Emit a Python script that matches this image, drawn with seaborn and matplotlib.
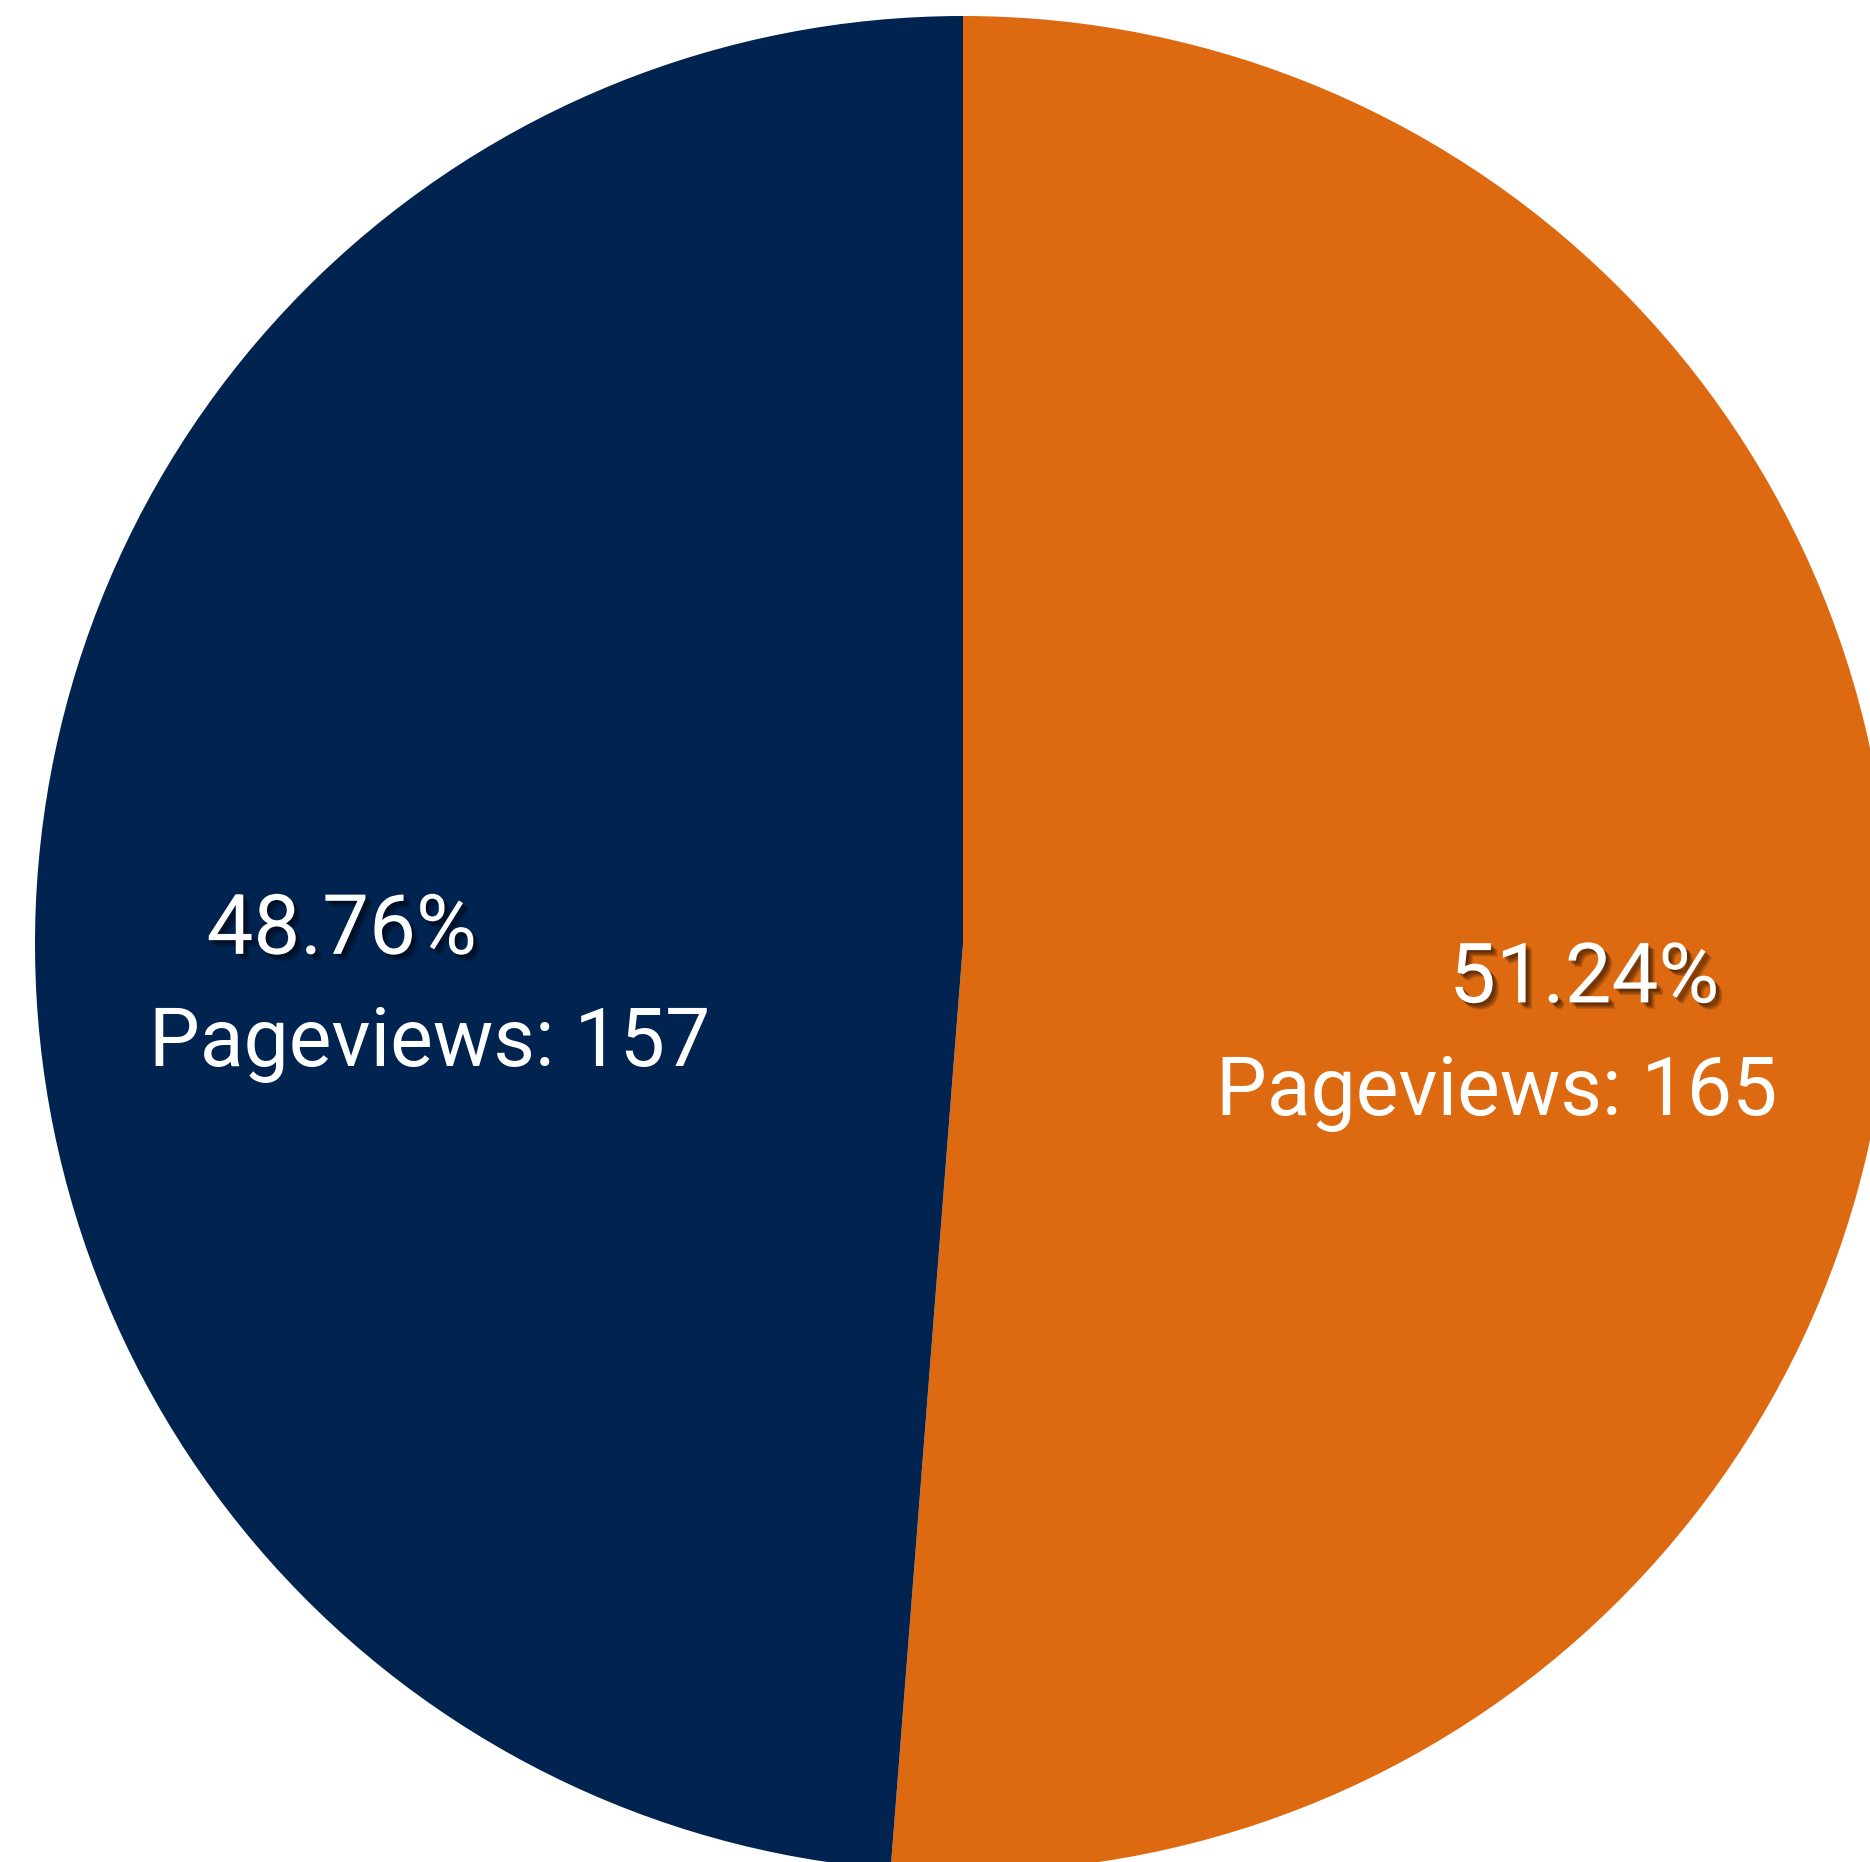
import numpy as np
import matplotlib
matplotlib.use("Agg")
import matplotlib.pyplot as plt
import matplotlib.patheffects as pe
import seaborn as sns

# data
categories = ["A", "B"]
pageviews = [165, 157]
colors = ["#DD6A10", "#012350"]

sns.set_theme(style="white")
plt.rcParams["font.family"] = ["Roboto", "DejaVu Sans"]

fig = plt.figure(figsize=(18.70, 18.62), dpi=100)
# pie centre at (963, 944) px, radius ~928 px
W, H = 1870, 1862
cx, cy, r = 963, 944, 928
ax = fig.add_axes([(cx - r) / W, (H - cy - r) / H, 2 * r / W, 2 * r / H])

wedges, texts, autotexts = ax.pie(
    pageviews,
    colors=colors,
    startangle=90,
    counterclock=False,
    autopct="%.2f%%",
    pctdistance=0.67,
    wedgeprops=dict(linewidth=0),
    textprops=dict(color="white", fontsize=60),
)

# soft drop shadow: a few offset copies at low alpha
shadow = [
    pe.SimplePatchShadow(offset=(o, -o), shadow_rgbFace="black", alpha=0.18)
    for o in (1.5, 2.5, 3.5, 4.5)
] + [pe.Normal()]
for t in autotexts:
    x, y = t.get_position()
    t.set_position((x, y - 0.012))
    t.set_path_effects(shadow)

# pageview labels sit under the percentage, pulled toward the centre
for w, v in zip(wedges, pageviews):
    mid = np.deg2rad((w.theta1 + w.theta2) / 2)
    x = 0.575 * np.cos(mid)
    y = 0.67 * np.sin(mid) - 0.134
    ax.text(x, y, f"Pageviews: {v}", color="white", fontsize=58,
            ha="center", va="center")

ax.set_xlim(-1, 1)
ax.set_ylim(-1, 1)
ax.set_aspect("equal")
ax.axis("off")

fig.savefig("out.png", dpi=100, facecolor="white")
